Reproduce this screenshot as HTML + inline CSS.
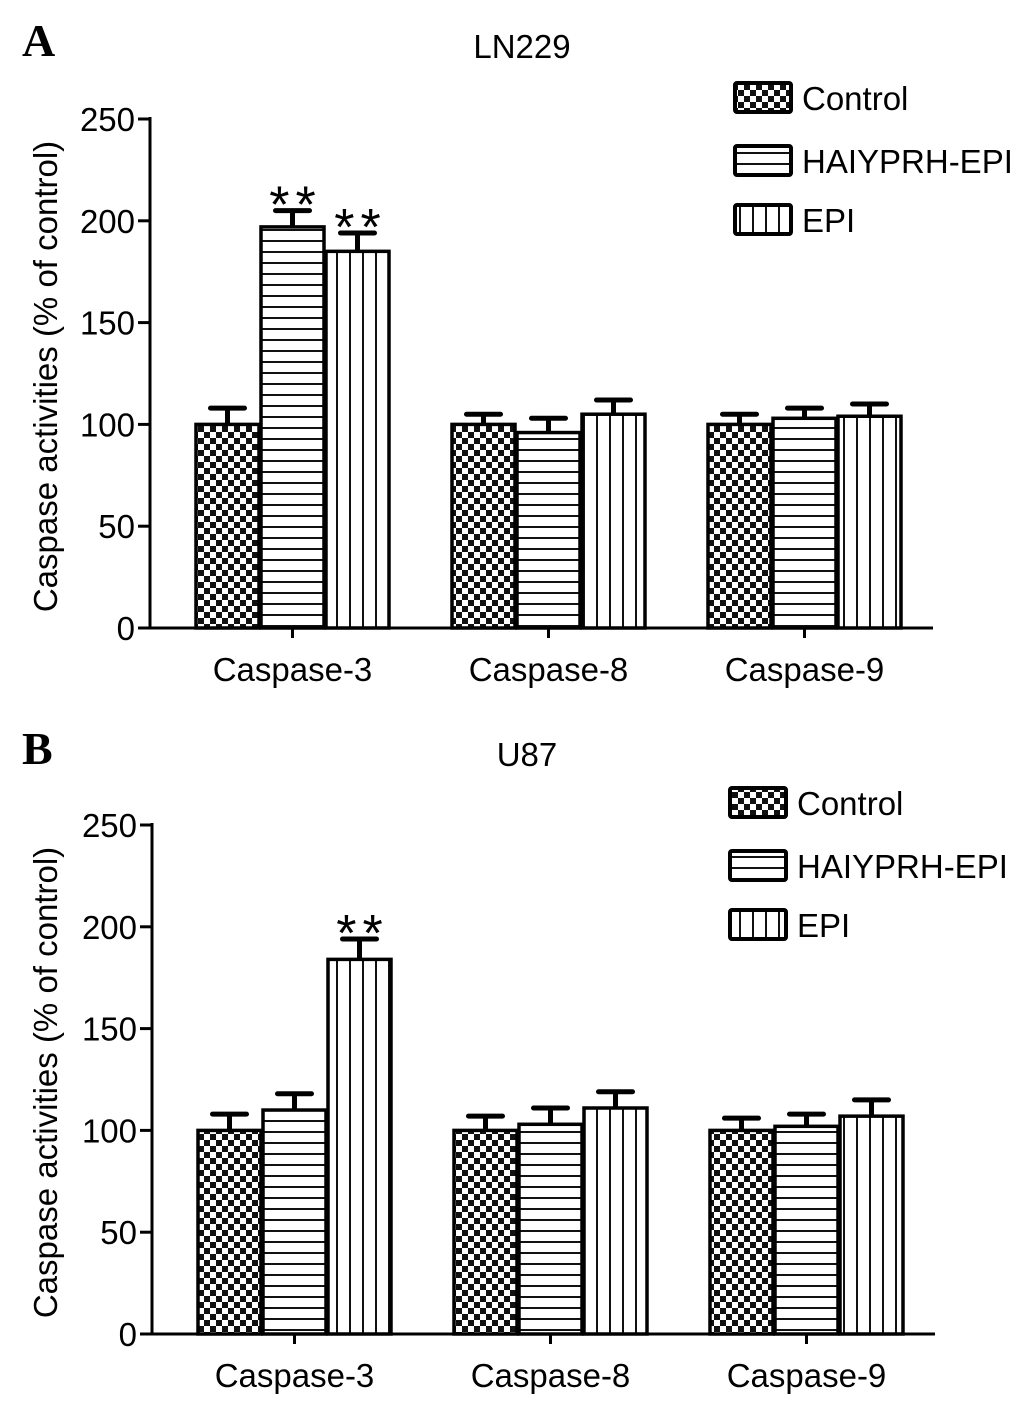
<!DOCTYPE html>
<html><head><meta charset="utf-8">
<style>
body{margin:0;background:#fff;}
svg{display:block;font-family:"Liberation Sans",Arial,sans-serif;}
</style></head>
<body>
<svg id="chart" width="1024" height="1408" viewBox="0 0 1024 1408" xmlns="http://www.w3.org/2000/svg">
<defs>
<pattern id="pChk" width="12" height="12" patternUnits="userSpaceOnUse">
<rect width="12" height="12" fill="#fff"/><rect width="6" height="6" fill="#111"/><rect x="6" y="6" width="6" height="6" fill="#111"/>
</pattern>
<pattern id="pHor" width="10" height="11" patternUnits="userSpaceOnUse">
<rect width="10" height="11" fill="#fff"/><rect y="9" width="10" height="2.5" fill="#111"/>
</pattern>
<pattern id="pVer" width="13" height="10" patternUnits="userSpaceOnUse">
<rect width="13" height="10" fill="#fff"/><rect x="11" width="2.5" height="10" fill="#111"/>
</pattern>
</defs>
</svg>
<script>
const categories = ["Caspase-3","Caspase-8","Caspase-9"];
const seriesNames = ["Control","HAIYPRH-EPI","EPI"];
const yTicks = [0,50,100,150,200,250];
const lnControl = [100,100,100];
const lnHaiyprh = [197,96,103];
const lnEpi = [185,105,104];
const lnControlErr = [8,5,5];
const lnHaiyprhErr = [8,7,5];
const lnEpiErr = [9,7,6];
const lnStars = [[false,true,true],[false,false,false],[false,false,false]];
const u87Control = [100,100,100];
const u87Haiyprh = [110,103,102];
const u87Epi = [184,111,107];
const u87ControlErr = [8,7,6];
const u87HaiyprhErr = [8,8,6];
const u87EpiErr = [10,8,8];
const u87Stars = [[false,false,true],[false,false,false],[false,false,false]];

const NS="http://www.w3.org/2000/svg";
const svg=document.getElementById('chart');
const fills=["url(#pChk)","url(#pHor)","url(#pVer)"];
const FS=33;
function mk(tag,attrs,parent){const e=document.createElementNS(NS,tag);for(const k in attrs)e.setAttribute(k,attrs[k]);(parent||svg).appendChild(e);return e;}

function panel(o){
  const g=mk('g',{});
  
  
  const y=v=>o.y0-(v/250)*(o.y0-o.y250);
  const groupStart=i=>o.x0+i*256;
  const bw=63,step=65;
  const L=mk('text',{x:22,y:o.letterY,'font-size':46,'font-weight':'bold','font-family':'Liberation Serif,serif'},g);L.textContent=o.letter;
  
  const T=mk('text',{x:o.titleX,y:o.titleY,'font-size':FS,'text-anchor':'middle'},g);T.textContent=o.title;
  
  const vals=[o.c,o.h,o.e],errs=[o.ce,o.he,o.ee];
  for(let i=0;i<categories.length;i++){
    for(let s=0;s<3;s++){
      const x=groupStart(i)+s*step;const top=y(vals[s][i]);const eTop=y(vals[s][i]+errs[s][i]);const cx=x+bw/2;
      const eb=mk('line',{x1:cx,y1:top,x2:cx,y2:eTop,stroke:'#000','stroke-width':5},g);
      
      const cap=mk('line',{x1:cx-17,y1:eTop,x2:cx+17,y2:eTop,stroke:'#000','stroke-width':5,'stroke-linecap':'round'},g);
      
      const r=mk('rect',{x:x,y:top,width:bw,height:o.y0-top,fill:fills[s],stroke:'#000','stroke-width':3.5},g);
      
      
      if(o.stars[i][s]){
        const st=mk('text',{x:cx+3,y:eTop+12,'font-size':52,'text-anchor':'middle','letter-spacing':'6'},g);st.textContent='**';
        
      }
    }
    const tk=mk('line',{x1:groupStart(i)+bw+step/2+1,y1:o.y0,x2:groupStart(i)+bw+step/2+1,y2:o.y0+10,stroke:'#000','stroke-width':3},g);
    
    const lb=mk('text',{x:groupStart(i)+bw+step/2+1,y:o.y0+53,'font-size':FS,'text-anchor':'middle'},g);lb.textContent=categories[i];
    
  }
  const ya=mk('line',{x1:o.ax,y1:o.y250-2,x2:o.ax,y2:o.y0,stroke:'#000','stroke-width':3},g);
  
  const xa=mk('line',{x1:o.ax-1.5,y1:o.y0,x2:o.xEnd,y2:o.y0,stroke:'#000','stroke-width':3},g);
  
  yTicks.forEach(v=>{
    const t=mk('line',{x1:o.ax-12,y1:y(v),x2:o.ax,y2:y(v),stroke:'#000','stroke-width':3},g);
    
    const tl=mk('text',{x:o.ax-15,y:y(v)+12,'font-size':FS,'text-anchor':'end'},g);tl.textContent=v;
    
  });
  const yt=mk('text',{x:0,y:0,'font-size':FS,'text-anchor':'middle',transform:`translate(57,${(o.y0+o.y250)/2+3}) rotate(-90)`},g);
  yt.textContent='Caspase activities (% of control)';
  
  const lys=[o.legY,o.legY+63,o.legY+122];
  seriesNames.forEach((n,s)=>{
    const sw=mk('rect',{x:o.legX,y:lys[s],width:56,height:29,fill:fills[s],stroke:'#000','stroke-width':4,rx:2},g);
    
    const lt=mk('text',{x:o.legX+67,y:lys[s]+27,'font-size':FS},g);lt.textContent=n;
    
  });
}
panel({name:'panel-a-ln229',letter:'A',letterY:56,title:'LN229',titleX:522,titleY:58,ax:150,x0:196,y0:628,y250:119,xEnd:933,
  c:lnControl,h:lnHaiyprh,e:lnEpi,ce:lnControlErr,he:lnHaiyprhErr,ee:lnEpiErr,stars:lnStars,legX:735,legY:83});
panel({name:'panel-b-u87',letter:'B',letterY:764,title:'U87',titleX:527,titleY:766,ax:152,x0:198,y0:1334,y250:825,xEnd:935,
  c:u87Control,h:u87Haiyprh,e:u87Epi,ce:u87ControlErr,he:u87HaiyprhErr,ee:u87EpiErr,stars:u87Stars,legX:730,legY:788});
</script>
</body></html>
